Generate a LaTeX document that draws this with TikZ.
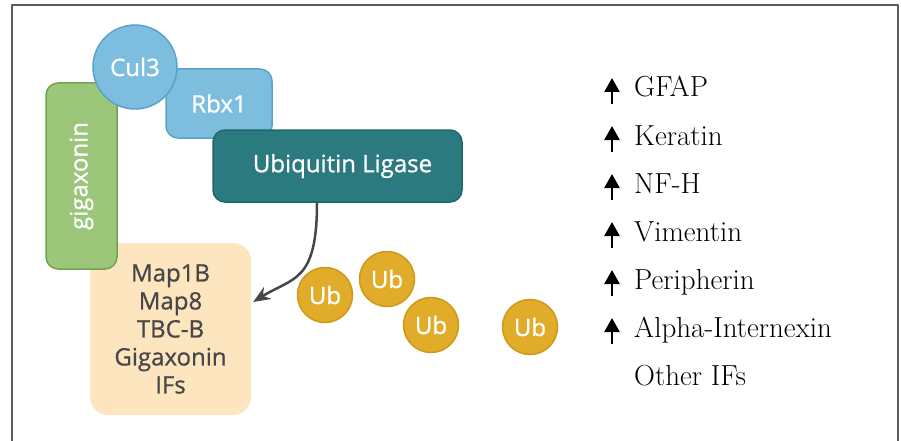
\documentclass[tikz,border=0pt]{standalone}
\usepackage{fontspec}
\setsansfont{Open Sans}[UprightFeatures={FakeBold=0.8}]
\usetikzlibrary{arrows.meta}
\definecolor{bluefill}{HTML}{7DBEDF}
\definecolor{bluedraw}{HTML}{5BA2CB}
\definecolor{tealfill}{HTML}{2B7A80}
\definecolor{tealdraw}{HTML}{1F676C}
\definecolor{greenfill}{HTML}{9CC77B}
\definecolor{greendraw}{HTML}{6FA64B}
\definecolor{mapfill}{HTML}{FDE5BF}
\definecolor{goldfill}{HTML}{E2AC2B}
\definecolor{golddraw}{HTML}{D09818}
\definecolor{frame}{HTML}{5A5A5A}
\definecolor{darktext}{HTML}{474747}
\tikzset{
  lab/.style={font=\sffamily\fontsize{24}{28}\selectfont, text=white},
  protein/.style={lab, rounded corners=12pt, line width=1.5pt},
  ub/.style={lab, circle, fill=goldfill, draw=golddraw, line width=1.5pt, minimum size=55pt, inner sep=0pt},
  item/.style={anchor=base west, font=\fontsize{29}{34}\selectfont, inner sep=0pt},
  uparrow/.style={line width=2.6pt, -{Triangle[length=14pt,width=15pt]}},
}
\begin{document}
\begin{tikzpicture}[x=1pt, y=-1pt, line join=round, >=Stealth]
\useasboundingbox (0,0) rectangle (901,441);
\draw[frame, line width=1.8pt] (12,441) -- (12,5) -- (898,5) -- (898,441);

% substrates
\node[fill=mapfill, rounded corners=18pt, minimum width=161pt, minimum height=172pt,
  align=center, font=\sffamily\fontsize{24}{28}\selectfont, text=darktext] (maps) at (170.5,329)
  {Map1B\\Map8\\TBC-B\\Gigaxonin\\IFs};

% ligase complex
\node[protein, fill=greenfill, draw=greendraw, rotate=90, minimum width=186pt, minimum height=71pt] (giga) at (81.5,176) {gigaxonin};
\node[protein, fill=bluefill, draw=bluedraw, minimum width=106pt, minimum height=69pt] (rbx) at (219,103.5) {Rbx1};
\node[lab, circle, fill=bluefill, draw=bluedraw, line width=1.5pt, minimum size=84pt, inner sep=0pt] (cul) at (135,67) {Cul3};
\node[protein, fill=tealfill, draw=tealdraw, minimum width=249pt, minimum height=72pt] (ligase) at (337.5,166) {\hspace*{10pt}Ubiquitin Ligase};

\draw[darktext, line width=2.5pt, -{Stealth[length=17pt,width=14pt]}]
  ([xshift=-20.5pt]ligase.south) .. controls +(0,80) and +(40,-25) .. ([xshift=2pt,yshift=27pt]maps.east);

% ubiquitin
\node[ub] (ub1) at (325,295) {Ub};
\node[ub] (ub2) at (387,279) {Ub};
\node[ub] (ub3) at (431,325) {Ub};
\node[ub] (ub4) at (530,327) {Ub};

% filaments
\foreach \name [count=\i] in {GFAP,Keratin,NF-H,Vimentin,Peripherin,Alpha-Internexin}{
  \node[item] (f\i) at (634,{49+48*\i}) {\name};
  \draw[uparrow] ([xshift=-22pt,yshift=-7pt]f\i.base west) -- ([xshift=-22pt,yshift=19pt]f\i.base west);
}
\node[item] (f7) at (634,385) {Other IFs};
\end{tikzpicture}
\end{document}
